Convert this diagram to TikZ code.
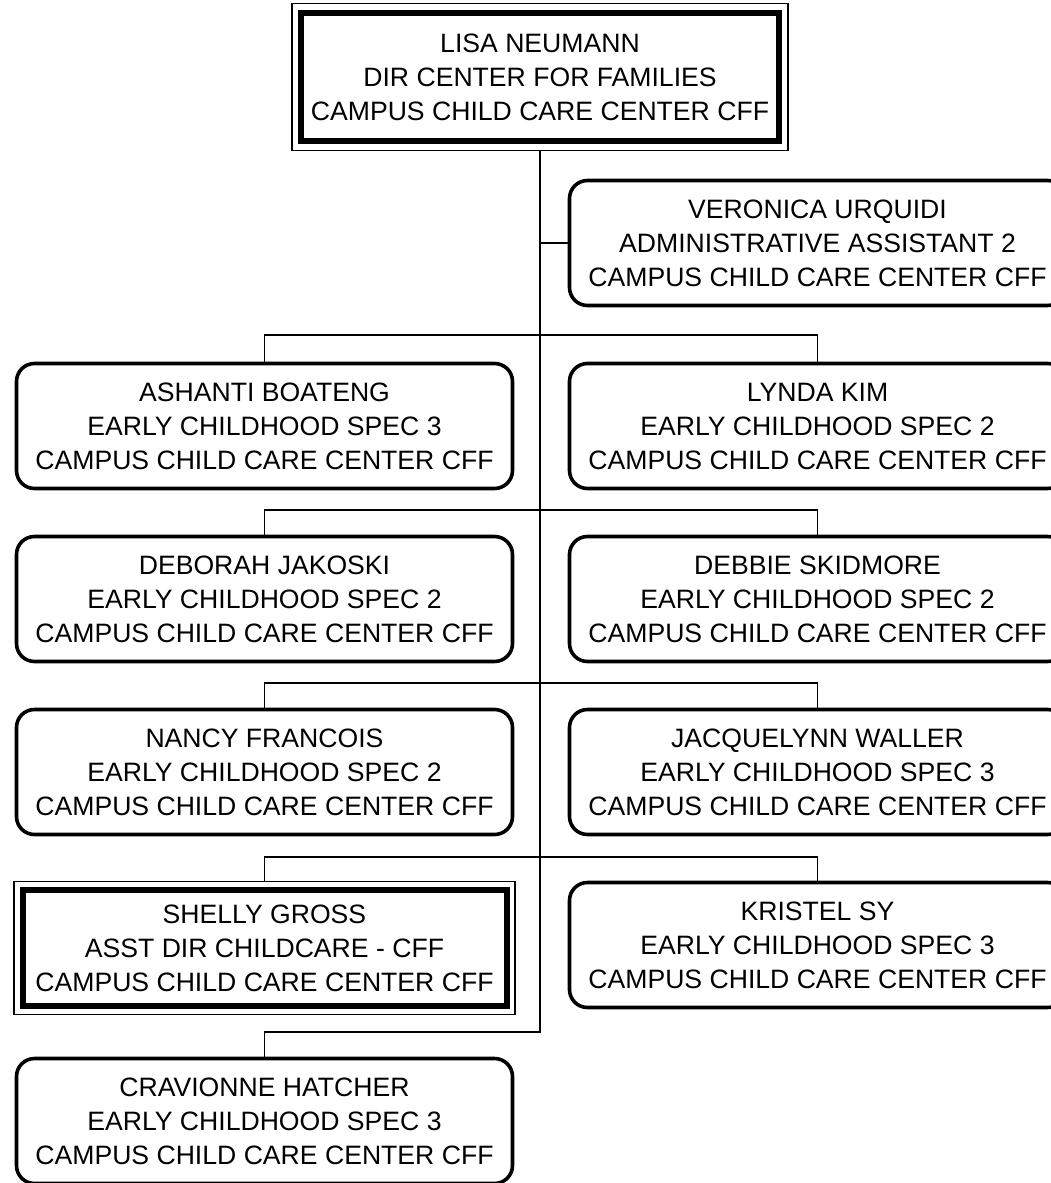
\documentclass[tikz,border=0pt]{standalone}
\usepackage{fontspec}
\setmainfont{Liberation Sans}
\begin{document}
\begin{tikzpicture}[x=1pt,y=-1pt,
  every node/.style={align=center,font=\fontsize{26.6}{34}\selectfont,inner sep=0pt,outer sep=0pt},
  person/.style={draw,rounded corners=18pt,line width=3.6pt,minimum width=496pt,minimum height=125pt},
  headinner/.style={draw,line width=6pt,minimum width=#1,minimum height=122pt},
  headouter/.style={draw,line width=1.2pt},
  link/.style={line width=1.5pt}]
\useasboundingbox (0,0) rectangle (1051,1183);
\clip (0,0) rectangle (1051,1183);
\fill[white] (0,0) rectangle (1051,1183);
% head
\node[headinner=478pt,minimum height=128pt] (lisa) at (540,77) {LISA NEUMANN\\DIR CENTER FOR FAMILIES\\CAMPUS CHILD CARE CENTER CFF};
\node[headouter,minimum width=496pt,minimum height=147pt] (lisaO) at (540,77) {};
% staff
\node[person] (vu) at (817.5,243) {VERONICA URQUIDI\\ADMINISTRATIVE ASSISTANT 2\\CAMPUS CHILD CARE CENTER CFF};
\node[person] (ab) at (264.5,426) {ASHANTI BOATENG\\EARLY CHILDHOOD SPEC 3\\CAMPUS CHILD CARE CENTER CFF};
\node[person] (lk) at (817.5,426) {LYNDA KIM\\EARLY CHILDHOOD SPEC 2\\CAMPUS CHILD CARE CENTER CFF};
\node[person] (dj) at (264.5,599) {DEBORAH JAKOSKI\\EARLY CHILDHOOD SPEC 2\\CAMPUS CHILD CARE CENTER CFF};
\node[person] (ds) at (817.5,599) {DEBBIE SKIDMORE\\EARLY CHILDHOOD SPEC 2\\CAMPUS CHILD CARE CENTER CFF};
\node[person] (nf) at (264.5,772) {NANCY FRANCOIS\\EARLY CHILDHOOD SPEC 2\\CAMPUS CHILD CARE CENTER CFF};
\node[person] (jw) at (817.5,772) {JACQUELYNN WALLER\\EARLY CHILDHOOD SPEC 3\\CAMPUS CHILD CARE CENTER CFF};
\node[headinner=484pt,minimum height=116pt] (sg) at (264.5,948) {SHELLY GROSS\\ASST DIR CHILDCARE - CFF\\CAMPUS CHILD CARE CENTER CFF};
\node[headouter,minimum width=501pt,minimum height=133pt] (sgO) at (264.5,948) {};
\node[person] (ks) at (817.5,945) {KRISTEL SY\\EARLY CHILDHOOD SPEC 3\\CAMPUS CHILD CARE CENTER CFF};
\node[person] (ch) at (264.5,1121) {CRAVIONNE HATCHER\\EARLY CHILDHOOD SPEC 3\\CAMPUS CHILD CARE CENTER CFF};
% trunk coordinates
\coordinate (b1) at (540,335);
\coordinate (b2) at (540,510);
\coordinate (b3) at (540,683);
\coordinate (b4) at (540,857);
\coordinate (tend) at (540,1032);
% connectors
\draw[link] (lisaO.south) -- (tend) -| (ch.north);
\draw[link] (vu.west) -- (vu.west -| lisaO.south);
\draw[link] (ab.north) |- (b1) -| (lk.north);
\draw[link] (dj.north) |- (b2) -| (ds.north);
\draw[link] (nf.north) |- (b3) -| (jw.north);
\draw[link] (sgO.north) |- (b4) -| (ks.north);
\end{tikzpicture}
\end{document}
